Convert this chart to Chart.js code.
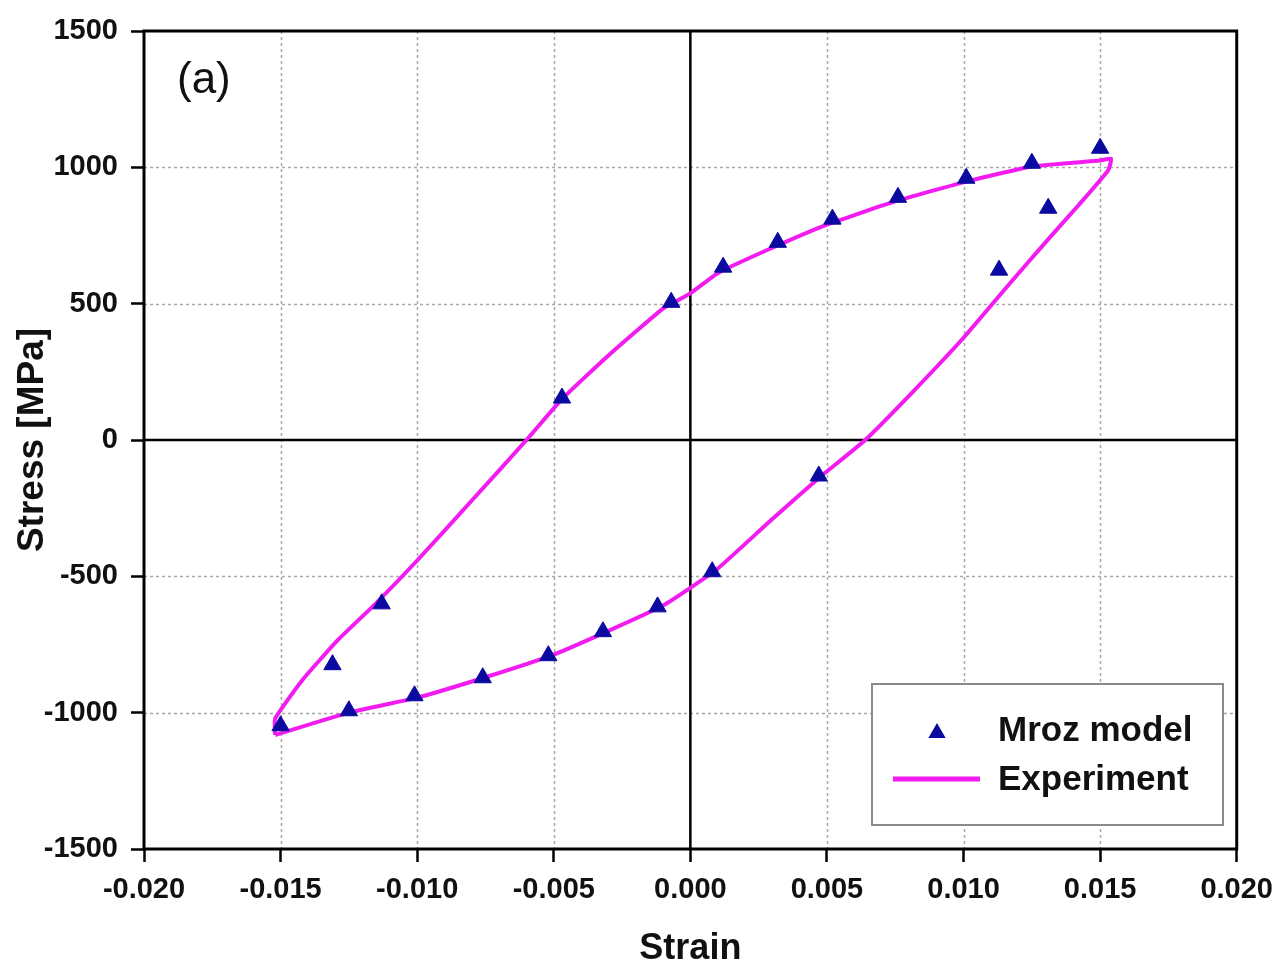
<!DOCTYPE html>
<html>
<head>
<meta charset="utf-8">
<script src="https://cdn.jsdelivr.net/npm/chart.js@4.4.1/dist/chart.umd.min.js"></script>
<style>
  html, body { margin: 0; padding: 0; background: #fff; }
  #wrap { width: 1284px; height: 973px; position: relative; }
</style>
</head>
<body>
<div id="wrap"><canvas id="c" width="1284" height="973"></canvas></div>
<script>
// ---- data ----
const xTicks = [-0.020, -0.015, -0.010, -0.005, 0.000, 0.005, 0.010, 0.015, 0.020];
const yTicks = [-1500, -1000, -500, 0, 500, 1000, 1500];

const mrozStrain = [0.0150, 0.0125, 0.0101, 0.0076, 0.0052, 0.0032, 0.0012, -0.0007, -0.0047,
                    0.0131, 0.0113, 0.0047, 0.0008, -0.0012, -0.0032, -0.0052, -0.0076, -0.0101,
                    -0.0125, -0.0150, -0.0131, -0.0113];
const mrozStress = [1070, 1015, 960, 890, 810, 725, 634, 505, 154,
                    850, 623, -132, -483, -612, -703, -791, -872, -938,
                    -993, -1048, -824, -601];

const expStrain = [-0.0152, -0.0125, -0.0100, -0.0075, -0.0050, -0.0030, -0.0010, 0.0000, 0.0010,
                   0.0030, 0.0047, 0.0064, 0.0081, 0.0100, 0.0117, 0.0130, 0.0142, 0.0153,
                   0.0154, 0.0150, 0.0125, 0.0100, 0.0075, 0.0050, 0.0030, 0.0010, 0.0000,
                   -0.0010, -0.0030, -0.0047, -0.0060, -0.0080, -0.0100, -0.0115, -0.0129,
                   -0.0142, -0.0152, -0.0152];
const expStress = [-1082, -1000, -945, -870, -787, -700, -607, -542, -472,
                   -290, -140, 0, 172, 375, 575, 725, 860, 990,
                   1032, 1025, 1003, 945, 875, 790, 705, 612, 538,
                   482, 310, 150, 0, -222, -442, -598, -733,
                   -880, -1022, -1082];

const seriesNames = ['Mroz model', 'Experiment'];
const panelLabel = '(a)';

// ---- build ----
const mrozPts = mrozStrain.map((x, i) => ({x, y: mrozStress[i]}));
const expPts = expStrain.map((x, i) => ({x, y: expStress[i]}));

const MAGENTA = '#f21cf0';
const NAVY = '#0a0aa0';
const FONT = "'Liberation Sans', Arial, sans-serif";

const gridPlugin = {
  id: 'gridFrame',
  beforeDatasetsDraw(chart) {
    const {ctx, chartArea: a, scales: {x, y}} = chart;
    ctx.save();
    ctx.lineWidth = 1.5;
    ctx.strokeStyle = '#a8a8a8';
    ctx.setLineDash([3, 3]);
    xTicks.forEach(v => {
      if (v === 0 || v === xTicks[0] || v === xTicks[xTicks.length - 1]) return;
      const p = Math.round(x.getPixelForValue(v)) + 0.5;
      ctx.beginPath(); ctx.moveTo(p, a.top); ctx.lineTo(p, a.bottom); ctx.stroke();
    });
    yTicks.forEach(v => {
      if (v === 0 || v === yTicks[0] || v === yTicks[yTicks.length - 1]) return;
      const p = Math.round(y.getPixelForValue(v)) + 0.5;
      ctx.beginPath(); ctx.moveTo(a.left, p); ctx.lineTo(a.right, p); ctx.stroke();
    });
    ctx.setLineDash([]);
    ctx.strokeStyle = '#000';
    ctx.lineWidth = 2.5;
    const x0 = x.getPixelForValue(0), y0 = y.getPixelForValue(0);
    ctx.beginPath(); ctx.moveTo(x0, a.top); ctx.lineTo(x0, a.bottom); ctx.stroke();
    ctx.beginPath(); ctx.moveTo(a.left, y0); ctx.lineTo(a.right, y0); ctx.stroke();
    ctx.restore();
  },
  afterDatasetsDraw(chart) {
    const {ctx, chartArea: a} = chart;
    ctx.save();
    ctx.strokeStyle = '#000';
    ctx.lineWidth = 3;
    ctx.strokeRect(a.left, a.top, a.right - a.left, a.bottom - a.top);

    // panel label
    ctx.fillStyle = '#111';
    ctx.font = "44px " + FONT;
    ctx.textAlign = 'left';
    ctx.textBaseline = 'middle';
    ctx.fillText(panelLabel, a.left + 33, a.top + 50);

    // legend box
    const bx = 872, by = 684, bw = 351, bh = 141;
    ctx.fillStyle = '#fff';
    ctx.fillRect(bx, by, bw, bh);
    ctx.strokeStyle = '#8a8a8a';
    ctx.lineWidth = 2;
    ctx.strokeRect(bx, by, bw, bh);
    // triangle symbol
    const tx = 937, ty = 733, r = 10;
    ctx.fillStyle = NAVY;
    ctx.beginPath();
    ctx.moveTo(tx, ty - r);
    ctx.lineTo(tx + r * 0.866, ty + r * 0.5);
    ctx.lineTo(tx - r * 0.866, ty + r * 0.5);
    ctx.closePath(); ctx.fill();
    // line symbol
    ctx.strokeStyle = MAGENTA;
    ctx.lineWidth = 5;
    ctx.beginPath(); ctx.moveTo(893, 779); ctx.lineTo(980, 779); ctx.stroke();
    ctx.fillStyle = '#111';
    ctx.font = "bold 35px " + FONT;
    ctx.textBaseline = 'middle';
    ctx.fillText(seriesNames[0], 998, 731);
    ctx.fillText(seriesNames[1], 998, 780);
    ctx.restore();
  }
};

new Chart(document.getElementById('c'), {
  type: 'scatter',
  data: {
    datasets: [
      {
        label: seriesNames[0],
        data: mrozPts,
        pointStyle: 'triangle',
        pointRadius: 10,
        pointBackgroundColor: NAVY,
        pointBorderColor: NAVY,
        pointBorderWidth: 1,
        showLine: false,
        order: 0
      },
      {
        label: seriesNames[1],
        data: expPts,
        showLine: true,
        borderColor: MAGENTA,
        borderWidth: 4,
        pointRadius: 0,
        tension: 0.15,
        fill: false,
        order: 1
      }
    ]
  },
  options: {
    responsive: false,
    animation: false,
    layout: { padding: { top: 31, right: 47, left: 0, bottom: 0 } },
    plugins: {
      legend: { display: false },
      tooltip: { enabled: false }
    },
    scales: {
      x: {
        type: 'linear',
        min: -0.02, max: 0.02,
        afterBuildTicks: s => { s.ticks = xTicks.map(v => ({value: v})); },
        afterFit: s => { s.height = 124; },
        grid: { drawOnChartArea: false, tickLength: 13, tickColor: '#000', tickWidth: 2.5 },
        border: { display: false },
        ticks: {
          color: '#111',
          padding: 11,
          maxRotation: 0,
          font: { family: FONT, size: 29, weight: 'bold' },
          callback: v => v.toFixed(3)
        },
        title: {
          display: true,
          text: 'Strain',
          color: '#111',
          font: { family: FONT, size: 36, weight: 'bold' },
          padding: { top: 0, bottom: 2 }
        }
      },
      y: {
        type: 'linear',
        min: -1500, max: 1500,
        afterBuildTicks: s => { s.ticks = yTicks.map(v => ({value: v})); },
        afterFit: s => { s.width = 144; },
        grid: { drawOnChartArea: false, tickLength: 13, tickColor: '#000', tickWidth: 2.5 },
        border: { display: false },
        ticks: {
          color: '#111',
          padding: 13,
          font: { family: FONT, size: 29, weight: 'bold' },
          callback: v => String(v)
        },
        title: {
          display: true,
          text: 'Stress [MPa]',
          color: '#111',
          font: { family: FONT, size: 37, weight: 'bold' },
          padding: { top: 11, bottom: 0 }
        }
      }
    }
  },
  plugins: [gridPlugin]
});
</script>
</body>
</html>
